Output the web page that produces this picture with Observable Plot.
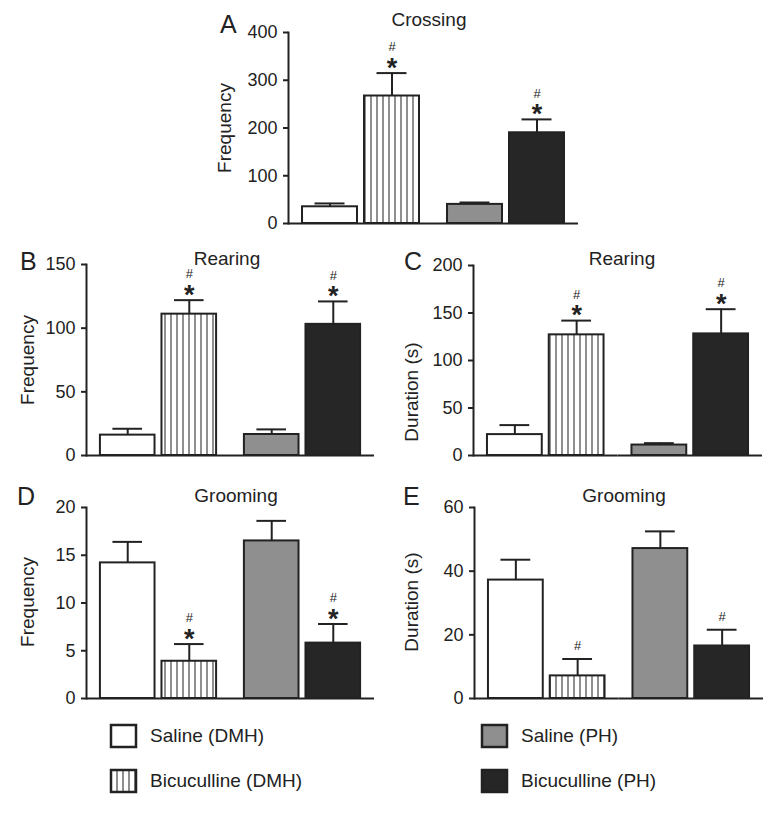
<!DOCTYPE html>
<html>
<head>
<meta charset="utf-8">
<script src="https://cdn.jsdelivr.net/npm/d3@7"></script>
<script src="https://cdn.jsdelivr.net/npm/@observablehq/plot@0.6"></script>
<style>
  html, body { margin: 0; padding: 0; background: #fff; }
  #root { position: relative; width: 772px; height: 816px; font-family: "Liberation Sans", Arial, Helvetica, sans-serif; color: #222; }
  .panel { position: absolute; }
</style>
</head>
<body>
<svg width="0" height="0" style="position:absolute">
  <defs>
    <pattern id="stripes" patternUnits="userSpaceOnUse" width="6" height="10">
      <rect width="6" height="10" fill="#ffffff"></rect>
      <line x1="3" y1="0" x2="3" y2="10" stroke="#333" stroke-width="1.1"></line>
    </pattern>
  </defs>
</svg>
<div id="root"></div>
<script>
// ---------- data ----------
const treatments = ["Saline (DMH)", "Bicuculline (DMH)", "Saline (PH)", "Bicuculline (PH)"];
const drugs = ["Saline", "Bicuculline", "Saline", "Bicuculline"];
const sites = ["DMH", "DMH", "PH", "PH"];
const fills = ["#ffffff", "url(#stripes)", "#8f8f8f", "#262626"];

// A: Crossing frequency
const crossingFreq = [35, 267, 40, 190];
const crossingFreqErr = [7, 48, 4, 28];
const crossingFreqStar = ["", "*", "", "*"];
const crossingFreqHash = ["", "#", "", "#"];
const crossingTicks = [0, 100, 200, 300, 400];

// B: Rearing frequency
const rearingFreq = [16, 111, 16.5, 103];
const rearingFreqErr = [5, 11, 4, 18];
const rearingFreqStar = ["", "*", "", "*"];
const rearingFreqHash = ["", "#", "", "#"];
const rearingFreqTicks = [0, 50, 100, 150];

// C: Rearing duration
const rearingDur = [22, 127, 11, 128];
const rearingDurErr = [10, 15, 2, 26];
const rearingDurStar = ["", "*", "", "*"];
const rearingDurHash = ["", "#", "", "#"];
const rearingDurTicks = [0, 50, 100, 150, 200];

// D: Grooming frequency
const groomingFreq = [14.2, 3.9, 16.5, 5.8];
const groomingFreqErr = [2.2, 1.8, 2.1, 2.0];
const groomingFreqStar = ["", "*", "", "*"];
const groomingFreqHash = ["", "#", "", "#"];
const groomingFreqTicks = [0, 5, 10, 15, 20];

// E: Grooming duration
const groomingDur = [37.2, 7.1, 47.1, 16.5];
const groomingDurErr = [6.4, 5.3, 5.4, 5.1];
const groomingDurStar = ["", "", "", ""];
const groomingDurHash = ["", "#", "", "#"];
const groomingDurTicks = [0, 20, 40, 60];

// ---------- rendering ----------
const INK = "#222";
const FONT = '"Liberation Sans", Arial, Helvetica, sans-serif';
const root = document.getElementById("root");

function rows(values, errs, stars, hashes) {
  return treatments.map((t, i) => ({
    treatment: t, drug: drugs[i], site: sites[i],
    value: values[i], high: values[i] + errs[i],
    star: stars[i], hash: hashes[i]
  }));
}

function panel(cfg) {
  const data = rows(cfg.values, cfg.errs, cfg.stars, cfg.hashes);
  const common = {fx: "site", x: "drug"};
  const chart = Plot.plot({
    width: cfg.width, height: cfg.height,
    marginLeft: cfg.mL, marginRight: cfg.mR, marginTop: cfg.mT, marginBottom: cfg.mB,
    style: {background: "transparent", overflow: "visible", fontFamily: FONT, color: INK},
    fx: {domain: ["DMH", "PH"], padding: 0, round: false, axis: null, label: null},
    x: {domain: ["Saline", "Bicuculline"], paddingInner: 0.113, paddingOuter: 0.226, round: false, axis: null, label: null},
    y: {domain: cfg.domain, axis: null},
    color: {domain: treatments, range: fills},
    marks: [
      Plot.barY(data, {...common, y: "value", fill: "treatment", stroke: INK, strokeWidth: 2}),
      Plot.ruleX(data, {...common, y1: "value", y2: "high", stroke: INK, strokeWidth: 2}),
      Plot.tickY(data, {...common, y: "high", stroke: INK, strokeWidth: 2, insetLeft: 12.5, insetRight: 12.5}),
      Plot.text(data.filter(d => d.star), {...common, y: "high", text: "star", dy: -5, fontSize: 27, fontWeight: "bold", fill: INK}),
      Plot.text(data.filter(d => d.hash && d.star), {...common, y: "high", text: "hash", dy: -26, fontSize: 13, fill: INK}),
      Plot.text(data.filter(d => d.hash && !d.star), {...common, y: "high", text: "hash", dy: -13, fontSize: 13, fill: INK}),
      Plot.ruleY([0], {stroke: INK, strokeWidth: 2}),
      Plot.axisY(cfg.ticks, {tickSize: 5, tickPadding: 6, strokeWidth: 2, fontSize: 18, label: null, stroke: INK, fill: INK, tickFormat: d => String(d)}),
      Plot.frame({anchor: "left", facetAnchor: "left", stroke: INK, strokeWidth: 2})
    ]
  });
  const wrap = document.createElement("div");
  wrap.className = "panel";
  wrap.style.left = cfg.left + "px";
  wrap.style.top = cfg.top + "px";
  wrap.appendChild(chart);
  root.appendChild(wrap);
}

panel({values: crossingFreq, errs: crossingFreqErr, stars: crossingFreqStar, hashes: crossingFreqHash,
  domain: [0, 400], ticks: crossingTicks,
  left: 200, top: 0, width: 388, height: 230, mL: 88, mR: 10, mT: 32, mB: 7});
panel({values: rearingFreq, errs: rearingFreqErr, stars: rearingFreqStar, hashes: rearingFreqHash,
  domain: [0, 150], ticks: rearingFreqTicks,
  left: 0, top: 240, width: 384, height: 222, mL: 86, mR: 10, mT: 24, mB: 7});
panel({values: rearingDur, errs: rearingDurErr, stars: rearingDurStar, hashes: rearingDurHash,
  domain: [0, 200], ticks: rearingDurTicks,
  left: 385, top: 240, width: 387, height: 222, mL: 88, mR: 10, mT: 25, mB: 7});
panel({values: groomingFreq, errs: groomingFreqErr, stars: groomingFreqStar, hashes: groomingFreqHash,
  domain: [0, 20], ticks: groomingFreqTicks,
  left: 0, top: 460, width: 384, height: 245, mL: 86, mR: 10, mT: 47, mB: 7});
panel({values: groomingDur, errs: groomingDurErr, stars: groomingDurStar, hashes: groomingDurHash,
  domain: [0, 60], ticks: groomingDurTicks,
  left: 385, top: 460, width: 387, height: 245, mL: 89, mR: 9, mT: 47, mB: 7});

// ---------- text overlay: panel letters, titles, axis labels, legend ----------
const overlay = d3.select(root).append("svg")
  .attr("width", 772).attr("height", 816)
  .style("position", "absolute").style("left", "0px").style("top", "0px")
  .style("pointer-events", "none")
  .attr("font-family", FONT).attr("fill", INK);

const letters = [["A", 220, 33], ["B", 20, 270], ["C", 404, 270], ["D", 17, 505], ["E", 403, 505]];
letters.forEach(([t, x, y]) => overlay.append("text").attr("x", x).attr("y", y).attr("font-size", 25).text(t));

const titles = [["Crossing", 429, 26], ["Rearing", 227, 265], ["Rearing", 622, 265], ["Grooming", 236, 502], ["Grooming", 624, 502]];
titles.forEach(([t, x, y]) => overlay.append("text").attr("x", x).attr("y", y).attr("text-anchor", "middle").attr("font-size", 19).text(t));

const yLabels = [["Frequency", 231, 128], ["Frequency", 34, 360], ["Duration (s)", 418, 392], ["Frequency", 34, 602], ["Duration (s)", 418, 602]];
yLabels.forEach(([t, x, y]) => overlay.append("text")
  .attr("transform", `translate(${x},${y}) rotate(-90)`)
  .attr("text-anchor", "middle").attr("font-size", 19).text(t));

const legendPos = [[111, 736], [111, 781], [482, 736], [482, 781]];
treatments.forEach((t, i) => {
  const [x, y] = legendPos[i];
  overlay.append("rect").attr("x", x).attr("y", y - 11).attr("width", 25).attr("height", 22)
    .attr("fill", fills[i]).attr("stroke", INK).attr("stroke-width", 2.5);
  overlay.append("text").attr("x", x + 39).attr("y", y + 6).attr("font-size", 19).text(t);
});
</script>
</body>
</html>
